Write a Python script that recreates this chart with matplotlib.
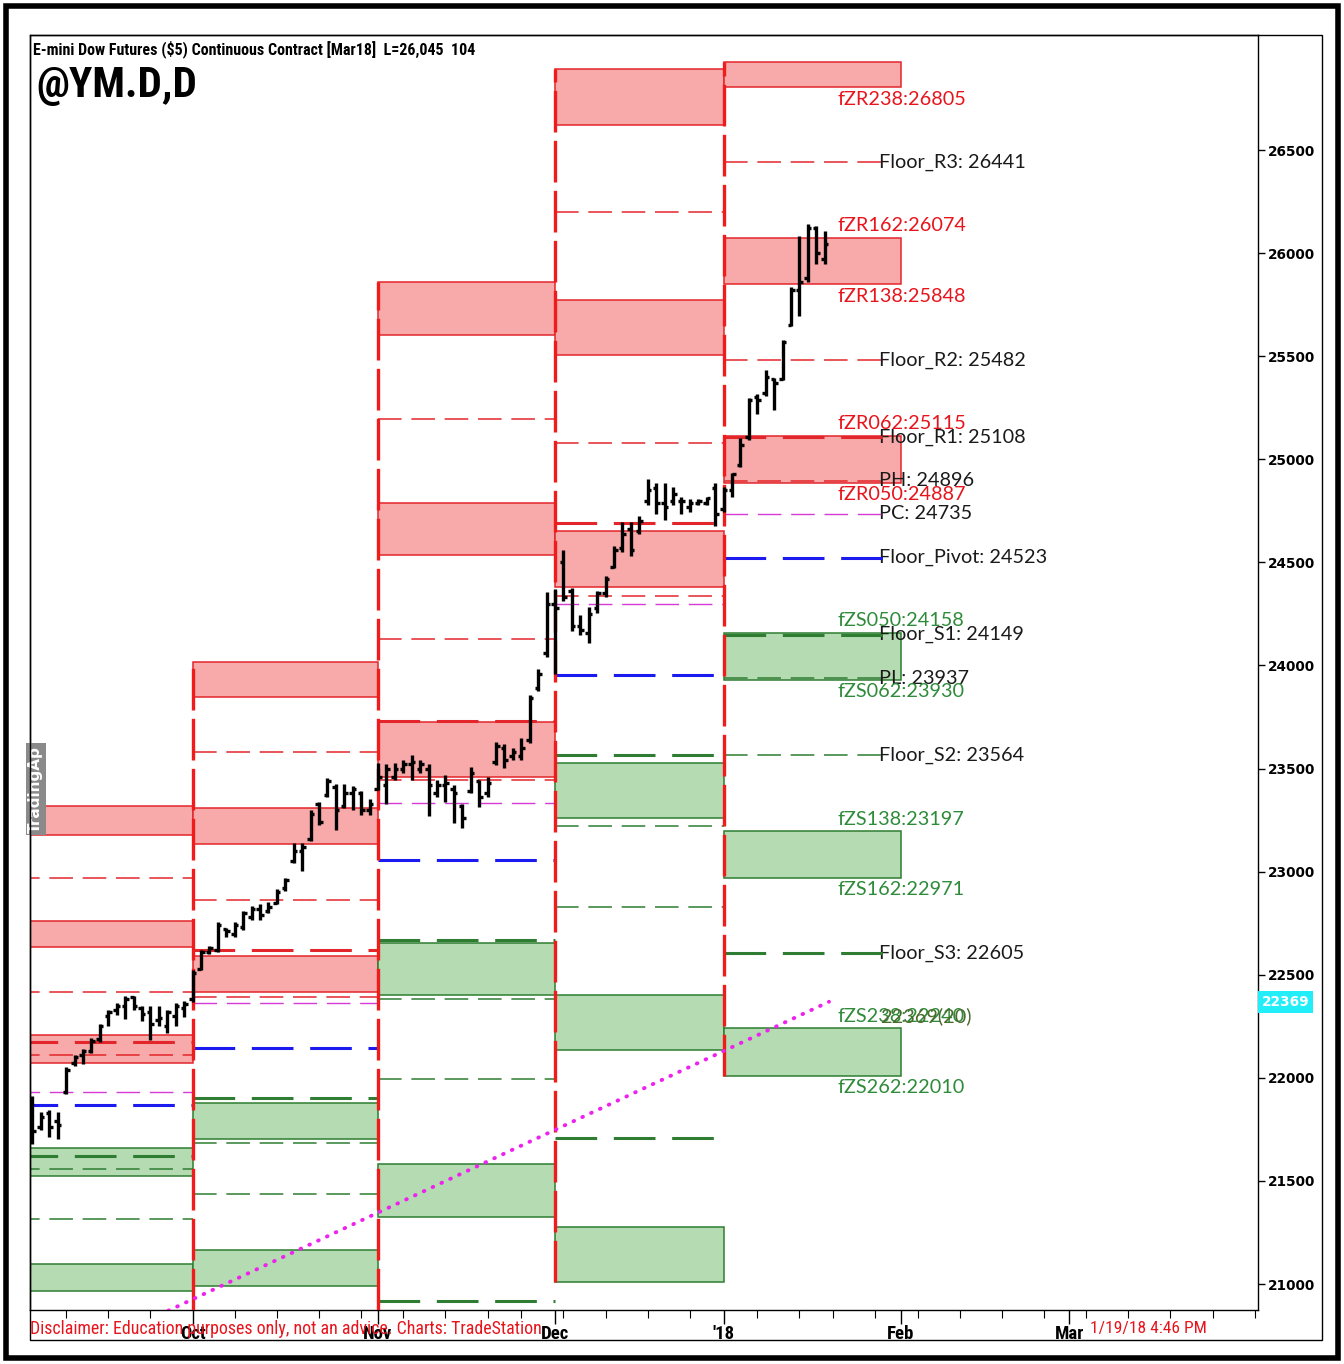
import numpy as np
import matplotlib
matplotlib.use('Agg')
import matplotlib.pyplot as plt
from matplotlib.patches import Rectangle

plt.rcParams['lines.scale_dashes'] = False

W, H = 1344, 1364

# x axis is a trading-day index, 0 = first session of Oct 2017
month_idx = [0, 22, 43, 63, 84, 104]
month_labels = ['Oct', 'Nov', 'Dec', "'18", 'Feb', 'Mar']
week_idx = [-15, -10, -5, 5, 10, 15, 20, 25, 30, 35, 39, 44, 49, 54, 59, 67, 72,
            76, 81, 86, 91, 96, 101, 106, 111, 116, 121, 126]

# monthly floor pivot segments: Sep, Oct, Nov, Dec, Jan
seg_start = [-21, 0, 22, 43, 63]
seg_end = [0, 22, 43, 63, 84]

r3 = [22969, 23580, 25195, 26199, 26441]
r2 = [22416, 22863, 24128, 25079, 25482]
r1 = [22174, 22620, 23731, 24691, 25108]
ph = [22111, 22392, 23445, 24337, 24896]
pc = [21931, 22363, 23333, 24298, 24735]
pivot = [21868, 22145, 23057, 23954, 24523]
s1 = [21621, 21902, 22669, 23566, 24149]
pl = [21558, 21684, 22383, 23222, 23937]
s2 = [21315, 21437, 21994, 22829, 23564]
s3 = [np.nan, np.nan, 20918, 21708, 22605]

zr050 = [22072, 22416, 23459, 24381, 24887]
zr062 = [22208, 22591, 23726, 24652, 25115]
zr138 = [22635, 23134, 24536, 25506, 25848]
zr162 = [22761, 23309, 24788, 25773, 26074]
zr238 = [23178, 23847, 25603, 26621, 26805]
zr262 = [23318, 24017, 25860, 26893, 26927]
zs050 = [21660, 21878, 22654, 23527, 24158]
zs062 = [21524, 21703, 22402, 23260, 23930]
zs138 = [21097, 21165, 21582, 22402, 23197]
zs162 = [20966, 20990, 21325, 22135, 22971]
zs238 = [np.nan, np.nan, np.nan, 21277, 22240]
zs262 = [np.nan, np.nan, np.nan, 21010, 22010]

# daily bars Sep 5 2017 .. Jan 19 2018
bar_idx = np.arange(-19, 76)
highs = [21912, 21835, 21844, 21835, 22053, 22111, 22140, 22191, 22261, 22330, 22364, 22397, 22397, 22349, 22349, 22349, 22330, 22364, 22373,
         22523, 22620, 22641, 22757, 22727, 22757, 22810, 22833, 22843, 22852, 22915, 22969, 23139, 23139, 23299, 23340, 23456, 23425, 23425, 23415, 23393, 23353,
         23527, 23520, 23527, 23541, 23568, 23541, 23520, 23445, 23470, 23420, 23330, 23508, 23445, 23459, 23627, 23619, 23601, 23650, 23858, 23983, 24356,
         24370, 24560, 24378, 24245, 24284, 24359, 24435, 24580, 24696, 24696, 24725, 24904, 24885, 24885, 24866, 24817, 24807, 24807, 24817, 24885,
         24868, 24936, 25102, 25296, 25315, 25434, 25393, 25580, 25835, 26083, 26141, 26134, 26107]
lows = [21679, 21747, 21713, 21703, 21922, 22058, 22068, 22121, 22174, 22251, 22305, 22286, 22330, 22276, 22184, 22251, 22218, 22251, 22296,
        22368, 22523, 22601, 22611, 22683, 22683, 22716, 22768, 22768, 22799, 22843, 22906, 23042, 23001, 23149, 23224, 23362, 23202, 23309, 23299, 23277, 23277,
        23394, 23330, 23445, 23478, 23445, 23478, 23270, 23362, 23340, 23236, 23212, 23382, 23314, 23362, 23518, 23503, 23541, 23541, 23626, 23876, 24041,
        23960, 24313, 24167, 24148, 24110, 24255, 24332, 24473, 24550, 24531, 24638, 24780, 24734, 24705, 24780, 24734, 24744, 24780, 24780, 24676,
        24746, 24815, 24963, 25092, 25219, 25306, 25238, 25383, 25645, 25697, 25860, 25947, 25947]
opens = [21890, 21760, 21830, 21790, 21930, 22070, 22110, 22130, 22190, 22300, 22330, 22350, 22390, 22340, 22320, 22280, 22250, 22300, 22340,
         22380, 22530, 22610, 22620, 22720, 22700, 22730, 22780, 22820, 22810, 22850, 22920, 23050, 23100, 23160, 23330, 23370, 23410, 23320, 23380, 23380, 23300,
         23400, 23420, 23460, 23500, 23520, 23500, 23500, 23380, 23420, 23400, 23320, 23390, 23440, 23380, 23530, 23600, 23560, 23560, 23640, 23890, 24060,
         24300, 24500, 24360, 24190, 24160, 24280, 24350, 24480, 24570, 24660, 24650, 24800, 24860, 24790, 24800, 24800, 24770, 24790, 24790, 24860,
         24760, 24850, 24970, 25110, 25300, 25320, 25390, 25390, 25650, 25820, 25880, 26120, 25970]
closes = [21740, 21810, 21760, 21770, 22040, 22100, 22130, 22180, 22250, 22320, 22350, 22380, 22350, 22310, 22260, 22290, 22320, 22350, 22360,
          22510, 22610, 22630, 22740, 22710, 22740, 22800, 22820, 22790, 22830, 22900, 22960, 23100, 23120, 23280, 23240, 23440, 23300, 23380, 23400, 23300, 23330,
          23460, 23500, 23500, 23520, 23530, 23520, 23420, 23420, 23430, 23380, 23260, 23480, 23360, 23430, 23610, 23540, 23580, 23600, 23840, 23960, 24300,
          24280, 24330, 24190, 24170, 24250, 24350, 24420, 24560, 24640, 24560, 24700, 24850, 24790, 24770, 24830, 24800, 24790, 24800, 24810, 24735,
          24850, 24930, 25070, 25290, 25290, 25400, 25370, 25570, 25820, 25860, 26120, 26000, 26045]

# trendline (dotted magenta)
trend_idx = [-6, 75.5]
trend_val = [20811, 22369]

yticks = [21000, 21500, 22000, 22500, 23000, 23500, 24000, 24500, 25000, 25500, 26000, 26500]

RED = '#e3262b'
RED_FILL = '#f7aaa9'
GREEN = '#2e7d32'
GREEN_FILL = '#b4dbb1'
BLUE = '#1b1bf0'
MAGENTA = '#d63bd6'
NARROW = ['Roboto Condensed', 'DejaVu Sans']

fig = plt.figure(figsize=(W / 100, H / 100), dpi=100)
fig.patch.set_facecolor('white')
ax = fig.add_axes([30 / W, 1 - 1310 / H, (1258 - 30) / W, (1310 - 35) / H])
ax.set_xlim(-19.28, 126.39)
ax.set_ylim(20874, 27058)
ybot = ax.get_ylim()[0]

# zone boxes
for k in range(5):
    x0, x1 = seg_start[k], seg_end[k]
    for lo, hi, fc, ec in [(zr050[k], zr062[k], RED_FILL, RED), (zr138[k], zr162[k], RED_FILL, RED),
                           (zr238[k], zr262[k], RED_FILL, RED), (zs062[k], zs050[k], GREEN_FILL, GREEN),
                           (zs162[k], zs138[k], GREEN_FILL, GREEN), (zs262[k], zs238[k], GREEN_FILL, GREEN)]:
        if np.isnan(lo) or np.isnan(hi):
            continue
        ax.add_patch(Rectangle((x0, lo), x1 - x0, hi - lo, facecolor=fc, edgecolor=ec, lw=1.1, zorder=1))

# pivot level lines
thin = (0, (17, 7))
thick = (0, (30, 12))
level_styles = [
    (r3, RED, 1.1, thin), (r2, RED, 1.1, thin), (r1, RED, 2.2, thick), (ph, RED, 1.1, thin),
    (pc, MAGENTA, 1.0, thin), (pivot, BLUE, 2.2, thick),
    (s1, GREEN, 2.2, thick), (pl, GREEN, 1.1, thin), (s2, GREEN, 1.1, thin), (s3, GREEN, 2.2, thick),
]
for k in range(5):
    x0 = seg_start[k]
    x1 = 82 if k == 4 else seg_end[k]
    for vals, col, lw, ls in level_styles:
        if np.isnan(vals[k]):
            continue
        ax.hlines(vals[k], x0, x1, colors=col, lw=lw, linestyles=[ls], zorder=2)

# month boundary lines, spanning each month's outer zones
for k in range(1, 5):
    lo = ybot if np.isnan(zs262[k]) else zs262[k]
    ax.vlines(seg_start[k], lo, zr262[k], colors='#f01c1c', lw=2.4, linestyles=[(0, (30, 6))], zorder=3)

# trendline
ax.plot(trend_idx, trend_val, color='#ee22ee', lw=2.8, linestyle=(0, (0.5, 6.5)),
        dash_capstyle='round', solid_capstyle='round', zorder=4)

# OHLC bars
ax.vlines(bar_idx, lows, highs, colors='black', lw=2.4, zorder=6)
ax.hlines(opens, bar_idx - 0.42, bar_idx, colors='black', lw=2.4, zorder=6)
ax.hlines(closes, bar_idx, bar_idx + 0.42, colors='black', lw=2.4, zorder=6)

# labels for the current month
lab_font = dict(family=['Lato', 'DejaVu Sans'], fontsize=14.3)
zone_labels = [
    ('fZR238', zr238[4], -1, RED), ('fZR162', zr162[4], 1, RED), ('fZR138', zr138[4], -1, RED),
    ('fZR062', zr062[4], 1, RED), ('fZR050', zr050[4], -1, RED),
    ('fZS050', zs050[4], 1, GREEN), ('fZS062', zs062[4], -1, GREEN), ('fZS138', zs138[4], 1, GREEN),
    ('fZS162', zs162[4], -1, GREEN), ('fZS238', zs238[4], 1, GREEN), ('fZS262', zs262[4], -1, GREEN),
]
for name, val, side, col in zone_labels:
    ax.annotate(f'{name}:{val:.0f}', (76.45, val), xytext=(0, 2.5 * side), textcoords='offset points',
                va='bottom' if side > 0 else 'top', ha='left', color='#e8141c' if col == RED else '#2e8b3a',
                zorder=7, **lab_font)

floor_labels = [('Floor_R3', r3[4]), ('Floor_R2', r2[4]), ('Floor_R1', r1[4]), ('PH', ph[4]),
                ('PC', pc[4]), ('Floor_Pivot', pivot[4]), ('Floor_S1', s1[4]), ('PL', pl[4]),
                ('Floor_S2', s2[4]), ('Floor_S3', s3[4])]
for name, val in floor_labels:
    ax.text(81.4, val, f'{name}: {val:.0f}', va='center', ha='left', color='#1a1a1a', zorder=1.5, **lab_font)

ax.annotate(f'{trend_val[-1]:.0f}(20)', (81.5, zs238[4]), xytext=(0, 2.5), textcoords='offset points',
            va='bottom', ha='left', color='#4b6a2e', zorder=7, **lab_font)

# watermark
ax.text(-18.6, 23400, 'TradingAp', rotation=90, ha='center', va='center', color='white',
        fontsize=11, fontweight='bold', bbox=dict(boxstyle='square,pad=0.15', fc='#8a8a8a', ec='none'), zorder=5)

# axes styling
ax.yaxis.tick_right()
ax.set_yticks(yticks)
ax.set_yticklabels([str(v) for v in yticks], fontsize=9.8, fontweight='bold', family='DejaVu Sans')
ax.tick_params(axis='y', direction='out', length=5, width=1, pad=2)
ax.set_xticks(month_idx)
ax.set_xticklabels(month_labels, fontsize=13.5, fontweight='bold', family=NARROW)
ax.set_xticks(week_idx, minor=True)
ax.tick_params(axis='x', which='major', direction='out', length=10, width=1, pad=1)
ax.tick_params(axis='x', which='minor', direction='out', length=6, width=0.8)
for sp in ax.spines.values():
    sp.set_linewidth(1)

# current trendline value on the price scale
ax.text(1.003, trend_val[-1], f'{trend_val[-1]:.0f}', transform=ax.get_yaxis_transform(),
        va='center', ha='left', fontsize=9.8, fontweight='bold', color='white',
        bbox=dict(boxstyle='square,pad=0.3', fc='#22eefa', ec='none'), zorder=8)

# header texts
fig.text(33 / W, 1 - 49 / H, 'E-mini Dow Futures ($5) Continuous Contract [Mar18]  L=26,045  104',
         fontsize=11.5, fontweight='bold', family=NARROW, va='center', ha='left')
fig.text(36 / W, 1 - 86 / H, '@YM.D,D', fontsize=31, fontweight='bold', family=NARROW,
         va='center', ha='left')

# footer texts
fig.text(30 / W, 1 - 1329 / H, 'Disclaimer: Education purposes only, not an advice. Charts: TradeStation',
         fontsize=12.9, family=NARROW, color='#e8141c', va='center', ha='left')
fig.text(1090 / W, 1 - 1328 / H, '1/19/18 4:46 PM', fontsize=12.5, family=NARROW, color='#e8141c',
         va='center', ha='left')

# frames
fig.add_artist(Rectangle((30 / W, 1 - 1340 / H), (1322 - 30) / W, (1340 - 35) / H,
                         transform=fig.transFigure, fill=False, ec='black', lw=1))
fig.add_artist(Rectangle((6 / W, 1 - 1358 / H), (1338 - 6) / W, (1358 - 6) / H,
                         transform=fig.transFigure, fill=False, ec='black', lw=4))

fig.savefig('out.png', dpi=100)
